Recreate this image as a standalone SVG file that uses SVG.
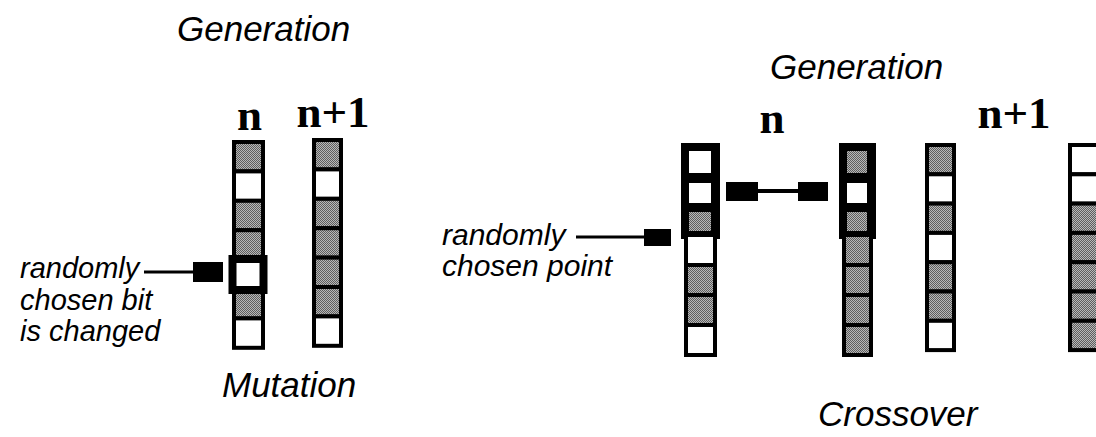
<svg xmlns="http://www.w3.org/2000/svg" width="1096" height="437" viewBox="0 0 1096 437">
  <style>
    .cap { font-family: "Liberation Sans", Arial, sans-serif; font-style: italic; font-size: 35px; fill: #000; }
    .note { font-family: "Liberation Sans", Arial, sans-serif; font-style: italic; font-size: 29px; fill: #000; }
    .note-r { font-family: "Liberation Sans", Arial, sans-serif; font-style: italic; font-size: 30px; fill: #000; }
    .gen { font-family: "Liberation Serif", "Times New Roman", serif; font-weight: bold; font-size: 45px; fill: #000; text-anchor: middle; }
    .cell { stroke: #000; stroke-width: 4; }
    .g { fill: url(#dither); }
    .w { fill: #fff; }
    .blk { fill: #000; }
    .wire { stroke: #000; stroke-width: 3; fill: none; }
  </style>
  <defs>
    <!-- dithered grey used for "1" bits -->
    <pattern id="dither" width="2" height="2" patternUnits="userSpaceOnUse">
      <rect width="2" height="2" fill="#b8b8b8"/>
      <rect width="1" height="1" fill="#5e5e5e"/>
      <rect x="1" y="1" width="1" height="1" fill="#5e5e5e"/>
    </pattern>
  </defs>
  <rect width="1096" height="437" fill="#fff"/>

  <!-- ===== Mutation ===== -->
  <text class="cap" x="177" y="41">Generation</text>
  <text class="gen" x="249.5" y="130">n</text>
  <text class="gen" x="333" y="127">n+1</text>

  <g id="mut-n" transform="translate(232,140)">
    <rect class="cell g" x="2" y="2" width="29" height="29.4"/>
    <rect class="cell w" x="2" y="31.4" width="29" height="29.4"/>
    <rect class="cell g" x="2" y="60.8" width="29" height="29.4"/>
    <rect class="cell g" x="2" y="90.2" width="29" height="29.4"/>
    <rect class="cell w" x="2" y="119.6" width="29" height="29.4"/>
    <rect class="cell g" x="2" y="149" width="29" height="29.4"/>
    <rect class="cell w" x="2" y="178.4" width="29" height="29.4"/>
    <!-- selected bit -->
    <rect x="0.5" y="119" width="31" height="31" fill="#fff" stroke="#000" stroke-width="8"/>
  </g>

  <g id="mut-n1" transform="translate(312,138)">
    <rect class="cell g" x="2" y="2" width="27" height="29.4"/>
    <rect class="cell w" x="2" y="31.4" width="27" height="29.4"/>
    <rect class="cell g" x="2" y="60.8" width="27" height="29.4"/>
    <rect class="cell g" x="2" y="90.2" width="27" height="29.4"/>
    <rect class="cell g" x="2" y="119.6" width="27" height="29.4"/>
    <rect class="cell g" x="2" y="149" width="27" height="29.4"/>
    <rect class="cell w" x="2" y="178.4" width="27" height="29.4"/>
  </g>

  <g id="mut-label">
    <text class="note" x="20" y="278">randomly</text>
    <text class="note" x="20" y="310">chosen bit</text>
    <text class="note" x="20" y="341">is changed</text>
  </g>

  <text class="cap" x="222" y="397">Mutation</text>

  <!-- ===== Crossover ===== -->
  <text class="cap" x="770" y="79">Generation</text>
  <text class="gen" x="772" y="133">n</text>
  <text class="gen" x="1014" y="128">n+1</text>

  <g id="parent-a">
    <rect class="blk" x="681" y="143" width="39" height="96"/>
    <rect class="w" x="689" y="151" width="22" height="22"/>
    <rect class="w" x="689" y="183" width="22" height="20"/>
    <rect class="g" x="689" y="212" width="22" height="19"/>
    <rect class="cell w" x="686" y="235" width="29" height="30"/>
    <rect class="cell g" x="686" y="265" width="29" height="30"/>
    <rect class="cell g" x="686" y="295" width="29" height="30"/>
    <rect class="cell w" x="686" y="325" width="29" height="30"/>
  </g>

  <g id="parent-b">
    <rect class="blk" x="839" y="143" width="37" height="96"/>
    <rect class="g" x="847" y="151" width="20" height="22"/>
    <rect class="w" x="847" y="183" width="20" height="20"/>
    <rect class="g" x="847" y="212" width="20" height="19"/>
    <rect class="cell g" x="844" y="235" width="27" height="30"/>
    <rect class="cell g" x="844" y="265" width="27" height="30"/>
    <rect class="cell g" x="844" y="295" width="27" height="30"/>
    <rect class="cell g" x="844" y="325" width="27" height="30"/>
  </g>

  <g id="child-a" transform="translate(925,143)">
    <rect class="cell g" x="2" y="2" width="27" height="29.3"/>
    <rect class="cell w" x="2" y="31.3" width="27" height="29.3"/>
    <rect class="cell g" x="2" y="60.6" width="27" height="29.3"/>
    <rect class="cell w" x="2" y="89.9" width="27" height="29.3"/>
    <rect class="cell g" x="2" y="119.2" width="27" height="29.3"/>
    <rect class="cell g" x="2" y="148.5" width="27" height="29.3"/>
    <rect class="cell w" x="2" y="177.8" width="27" height="29.3"/>
  </g>

  <g id="child-b" transform="translate(1068,143)">
    <rect class="cell w" x="2" y="2" width="29" height="29.3"/>
    <rect class="cell w" x="2" y="31.3" width="29" height="29.3"/>
    <rect class="cell g" x="2" y="60.6" width="29" height="29.3"/>
    <rect class="cell g" x="2" y="89.9" width="29" height="29.3"/>
    <rect class="cell g" x="2" y="119.2" width="29" height="29.3"/>
    <rect class="cell g" x="2" y="148.5" width="29" height="29.3"/>
    <rect class="cell g" x="2" y="177.8" width="29" height="29.3"/>
  </g>

  <g id="cross-label">
    <text class="note-r" x="442" y="245">randomly</text>
    <text class="note-r" x="442" y="276">chosen point</text>
  </g>

  <text class="cap" x="818" y="426">Crossover</text>

  <!-- pointers and swap link -->
  <g id="connectors">
    <line class="wire" x1="144" y1="272" x2="194" y2="272"/>
    <rect class="blk" x="193" y="262" width="30" height="20"/>
    <line class="wire" x1="576" y1="237" x2="645" y2="237"/>
    <rect class="blk" x="644" y="229" width="27" height="17"/>
    <rect class="blk" x="726" y="182" width="32" height="19"/>
    <line x1="757" y1="191" x2="799" y2="191" stroke="#000" stroke-width="4"/>
    <rect class="blk" x="798" y="182" width="30" height="19"/>
  </g>
</svg>
